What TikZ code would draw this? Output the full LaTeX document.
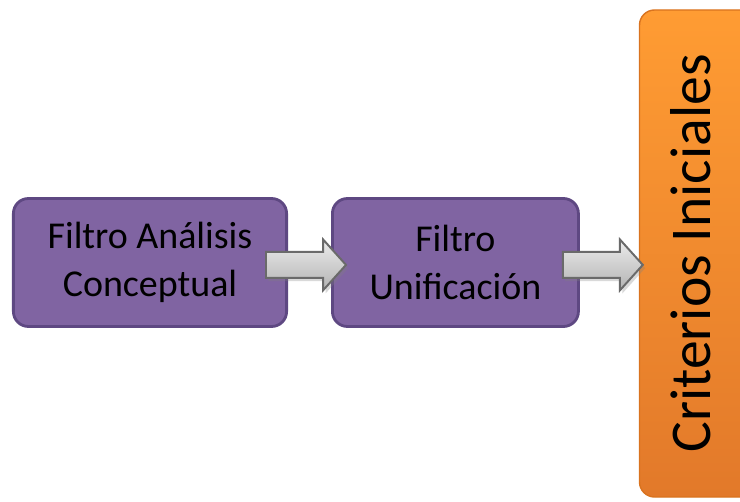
\documentclass[tikz,border=0pt]{standalone}
\usepackage{fontspec}
\setmainfont{Carlito}
\usetikzlibrary{positioning,shapes.arrows,shadows}
\definecolor{violeta}{HTML}{8064A2}
\definecolor{violetaosc}{HTML}{5E4882}
\definecolor{naranjaclaro}{HTML}{FF9C33}
\definecolor{naranjaosc}{HTML}{E2792A}
\definecolor{naranjaborde}{HTML}{D9731F}
\definecolor{grisosc}{HTML}{6A6A6A}
\begin{document}
\begin{tikzpicture}[node distance={10.75mm},
  filtro/.style = {draw=violetaosc, fill=violeta, line width=2pt, rounded corners=3.75mm, minimum height=32mm, align=center, font=\fontsize{27}{34}\selectfont},
  criterio/.style = {draw=naranjaborde, line width=1pt, rounded corners=3.75mm, top color=naranjaclaro, bottom color=naranjaosc, minimum width=30mm, minimum height=121.75mm},
  flecha/.style = {single arrow, draw=grisosc, line width=1.4pt, top color=gray!15, bottom color=gray!60, minimum height=20mm, minimum width=12.25mm, text height=3mm, text depth=3mm, single arrow head extend=3.1mm, single arrow tip angle=96, inner sep=0pt, drop shadow={opacity=0.3, shadow xshift=0.6mm, shadow yshift=-0.8mm}}]
\useasboundingbox (0,0) rectangle (18.5,12.525);

\node[filtro, minimum width=68.3mm] (1) at (3.75,5.9625) {Filtro Análisis\\Conceptual};
\node[filtro, minimum width=61.5mm] (2) [right=of 1] {Filtro\\Unificación};
\node[criterio] (3) [right=14.75mm of 2, yshift=2.25mm] {};
\node[rotate=90, font=\fontsize{41}{48}\selectfont] (t3) at ([xshift=-2.25mm]3.center) {Criterios Iniciales};

\node[flecha, anchor=tail] (a1) at ([xshift=-5.75mm, yshift=-0.6mm]1.east) {};
\node[flecha, anchor=tail] (a2) at ([xshift=-4.5mm, yshift=-0.6mm]2.east) {};

\end{tikzpicture}
\end{document}
